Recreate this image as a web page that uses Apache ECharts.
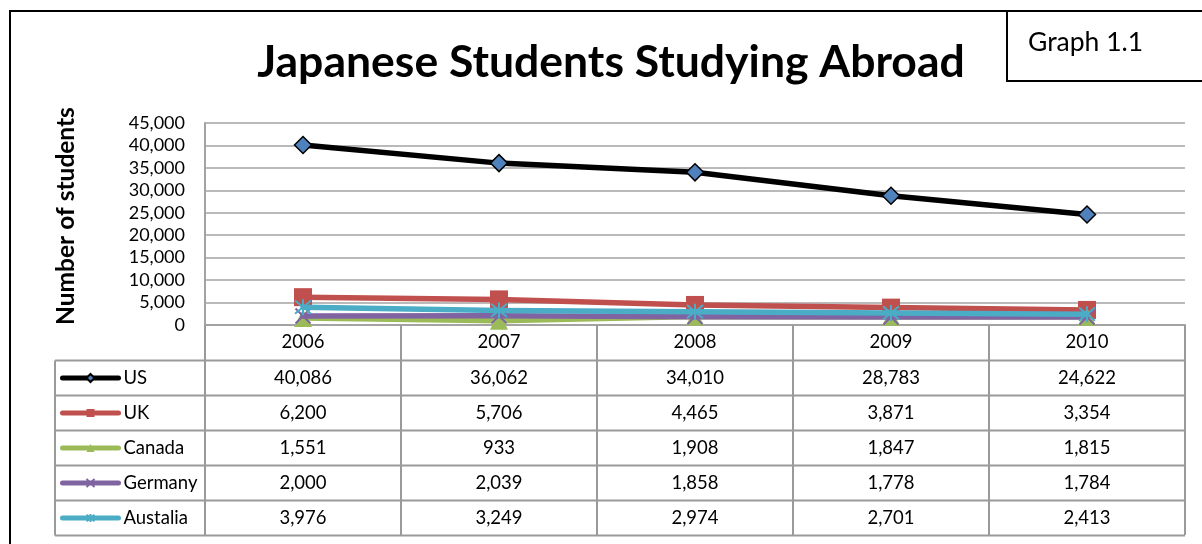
<!DOCTYPE html>
<html>
<head>
<meta charset="utf-8">
<script src="https://cdn.jsdelivr.net/npm/echarts@6/dist/echarts.min.js"></script>
<style>
  html, body { margin: 0; padding: 0; background: #fff; }
  #chart { width: 1202px; height: 544px; }
</style>
</head>
<body>
<div id="chart"></div>
<script>
// Category axis and series data
const years = ['2006', '2007', '2008', '2009', '2010'];
const seriesNames = ['US', 'UK', 'Canada', 'Germany', 'Austalia'];
const usValues = [40086, 36062, 34010, 28783, 24622];
const ukValues = [6200, 5706, 4465, 3871, 3354];
const canadaValues = [1551, 933, 1908, 1847, 1815];
const germanyValues = [2000, 2039, 1858, 1778, 1784];
const australiaValues = [3976, 3249, 2974, 2701, 2413];
const allValues = [usValues, ukValues, canadaValues, germanyValues, australiaValues];

const FONT = 'Lato';
const GRID_C = '#a3a3a3';
const TABLE_C = '#9a9a9a';

// Table geometry (below the plot area)
const TABLE_TOP = 360.5;
const ROW_H = 35;
const TABLE_LEFT = 55;

const fmt = v => v.toLocaleString('en-US');

// Marker shapes
const xMark = 'path://M0,0L10,10M0,10L10,0';
const starMark = 'path://M0,0L10,10M0,10L10,0M5,-1L5,11';

const styles = [
  { line: '#000000', fill: '#4F81BD', symbol: 'diamond', size: 17, border: '#000000', bw: 1.5 },
  { line: '#C0504D', fill: '#C0504D', symbol: 'rect', size: 18, border: '#C0504D', bw: 0 },
  { line: '#9BBB59', fill: '#9BBB59', symbol: 'triangle', size: 18, border: '#9BBB59', bw: 0 },
  { line: '#8064A2', fill: '#8064A2', symbol: xMark, size: 15, border: '#8064A2', bw: 2 },
  { line: '#4BACC6', fill: '#4BACC6', symbol: starMark, size: 16, border: '#4BACC6', bw: 2 }
];

const chart = echarts.init(document.getElementById('chart'), null, { renderer: 'canvas' });

const series = seriesNames.map((name, i) => ({
  name: name,
  type: 'line',
  data: allValues[i],
  symbol: styles[i].symbol,
  symbolSize: styles[i].size,
  showAllSymbol: true,
  clip: false,
  lineStyle: { color: styles[i].line, width: 5.5, cap: 'round', join: 'round' },
  itemStyle: { color: styles[i].fill, borderColor: styles[i].border, borderWidth: styles[i].bw },
  emphasis: { disabled: true },
  z: 3 + i
}));

const option = {
  animation: false,
  backgroundColor: '#ffffff',
  textStyle: { fontFamily: FONT },
  grid: { left: 205, top: 123, right: 17, bottom: 219, containLabel: false },
  legend: {
    orient: 'vertical',
    left: 60,
    top: 368,
    padding: 0,
    itemWidth: 56,
    itemHeight: 10,
    itemGap: 15,
    selectedMode: false,
    data: seriesNames,
    lineStyle: { width: 5, cap: 'round' },
    textStyle: { fontFamily: FONT, fontSize: 18.5, color: '#000', lineHeight: 20 }
  },
  xAxis: {
    type: 'category',
    data: years,
    boundaryGap: true,
    axisLine: { show: true, lineStyle: { color: GRID_C, width: 2 } },
    axisTick: { show: true, interval: 0, length: 210, inside: false, lineStyle: { color: TABLE_C, width: 2 } },
    axisLabel: { interval: 0, fontFamily: FONT, fontSize: 18.5, color: '#000', margin: 17, verticalAlign: 'middle' },
    splitLine: { show: false }
  },
  yAxis: {
    type: 'value',
    min: 0,
    max: 45000,
    interval: 5000,
    name: 'Number of students',
    nameLocation: 'middle',
    nameRotate: 90,
    nameGap: 126,
    nameTextStyle: { fontFamily: FONT, fontSize: 24.5, fontWeight: 'bold', color: '#000', padding: [0, 0, 0, 16] },
    axisLine: { show: true, lineStyle: { color: GRID_C, width: 2 } },
    axisTick: { show: false },
    axisLabel: { fontFamily: FONT, fontSize: 18, color: '#000', margin: 20, formatter: v => fmt(v) },
    splitLine: { show: true, lineStyle: { color: GRID_C, width: 1.5 } }
  },
  series: series
};

chart.setOption(option);

// Frame, title, label box and the data table drawn with graphic elements
function buildGraphics() {
  const els = [];
  // Outer chart frame
  els.push({ type: 'rect', shape: { x: 10, y: 11, width: 1210, height: 560 },
    style: { fill: null, stroke: '#000', lineWidth: 2 }, z: 0, silent: true });
  // Title
  els.push({ type: 'text', x: 611, y: 63, z: 10, silent: true,
    style: { text: 'Japanese Students Studying Abroad', fill: '#000', font: 'bold 44.5px ' + FONT,
      textAlign: 'center', textVerticalAlign: 'middle' } });
  // "Graph 1.1" box
  els.push({ type: 'rect', shape: { x: 1007, y: 11, width: 220, height: 70 },
    style: { fill: '#fff', stroke: '#000', lineWidth: 2 }, z: 10, silent: true });
  els.push({ type: 'text', x: 1028, y: 42, z: 11, silent: true,
    style: { text: 'Graph 1.1', fill: '#000', font: '26.5px ' + FONT, textAlign: 'left', textVerticalAlign: 'middle' } });

  const half = (chart.convertToPixel({ xAxisIndex: 0 }, 1) - chart.convertToPixel({ xAxisIndex: 0 }, 0)) / 2;
  const lastX = chart.convertToPixel({ xAxisIndex: 0 }, years.length - 1) + half;
  const bottom = TABLE_TOP + ROW_H * seriesNames.length;

  // Horizontal table rules
  for (let r = 0; r <= seriesNames.length; r++) {
    const y = TABLE_TOP + ROW_H * r;
    els.push({ type: 'line', shape: { x1: TABLE_LEFT, y1: y, x2: lastX, y2: y },
      style: { stroke: TABLE_C, lineWidth: 2 }, z: 1, silent: true });
  }
  // Left edge of the legend column
  els.push({ type: 'line', shape: { x1: TABLE_LEFT, y1: TABLE_TOP, x2: TABLE_LEFT, y2: bottom },
    style: { stroke: TABLE_C, lineWidth: 2 }, z: 1, silent: true });

  // Cell values
  allValues.forEach((vals, r) => {
    const cy = TABLE_TOP + ROW_H * r + ROW_H / 2;
    vals.forEach((v, c) => {
      const cx = chart.convertToPixel({ xAxisIndex: 0 }, c);
      els.push({ type: 'text', x: cx, y: cy, z: 5, silent: true,
        style: { text: fmt(v), fill: '#000', font: '18.5px ' + FONT, textAlign: 'center', textVerticalAlign: 'middle' } });
    });
  });
  return els;
}

chart.setOption({ graphic: { elements: buildGraphics() } });
</script>
</body>
</html>
